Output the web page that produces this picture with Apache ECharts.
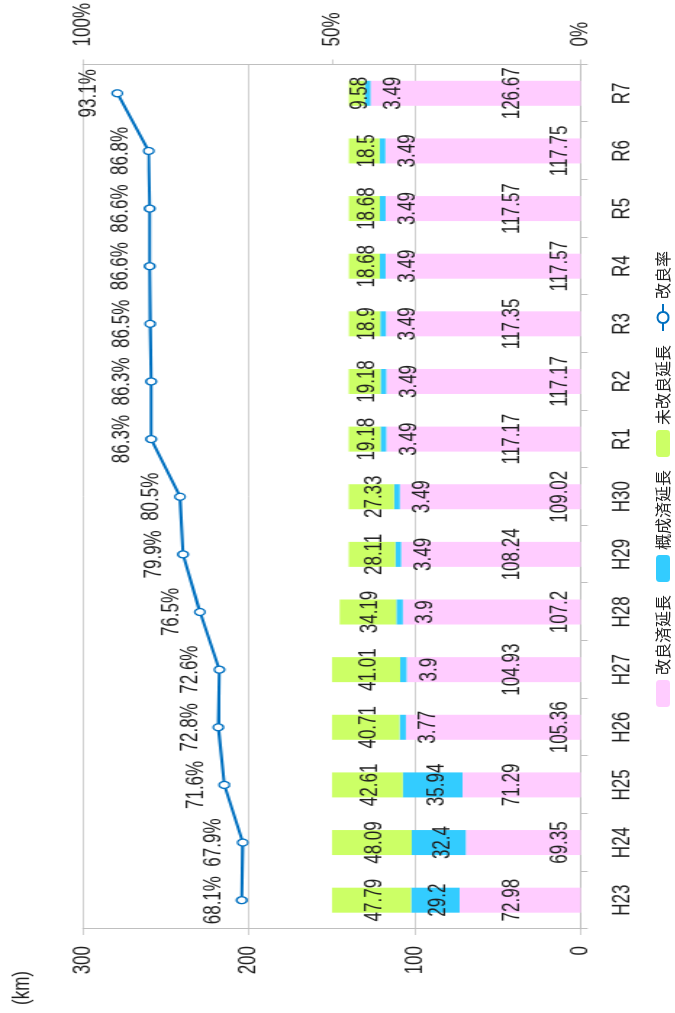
<!DOCTYPE html>
<html>
<head>
<meta charset="utf-8">
<script src="https://cdn.jsdelivr.net/npm/echarts@6/dist/echarts.min.js"></script>
<style>
  html, body { margin: 0; padding: 0; width: 675px; height: 1013px; overflow: hidden; background: #fff; }
  .rot { position: absolute; left: 0; top: 0; width: 1013px; transform-origin: 0 0; }
</style>
</head>
<body>
<div id="chart" class="rot"></div>
<div id="legend" class="rot"></div>
<script>
// ---- data ----
const categories = ['H23','H24','H25','H26','H27','H28','H29','H30','R1','R2','R3','R4','R5','R6','R7'];
const improved   = [72.98, 69.35, 71.29, 105.36, 104.93, 107.2, 108.24, 109.02, 117.17, 117.17, 117.35, 117.57, 117.57, 117.75, 126.67];
const roughDone  = [29.2, 32.4, 35.94, 3.77, 3.9, 3.9, 3.49, 3.49, 3.49, 3.49, 3.49, 3.49, 3.49, 3.49, 3.49];
const unimproved = [47.79, 48.09, 42.61, 40.71, 41.01, 34.19, 28.11, 27.33, 19.18, 19.18, 18.9, 18.68, 18.68, 18.5, 9.58];
const rate       = [68.1, 67.9, 71.6, 72.8, 72.6, 76.5, 79.9, 80.5, 86.3, 86.3, 86.5, 86.6, 86.6, 86.8, 93.1];
const kmTicks    = [0, 100, 200, 300];
const pctTicks   = [0, 50, 100];
const seriesNames = ['改良済延長', '概成済延長', '未改良延長', '改良率'];
const unitLabel = '(km)';

// ---- layout / style ----
const W = 1013, H = 675;     // unrotated chart size
const S = 1.45;              // vertical stretch of the original picture (tall, narrow glyphs)
const FONT = "'Liberation Sans', Arial, 'Noto Sans CJK JP', sans-serif";
const JFONT = "'Noto Sans CJK JP', sans-serif";
const TXT = '#1f1f1f';
const GRID = '#BFBFBF';
const FS = 17;
const COLORS = ['#FFCCFF', '#33CCFF', '#CCFF66', '#0070C0'];

const chartEl = document.getElementById('chart');
chartEl.style.height = (H / S) + 'px';
chartEl.style.transform = 'translate(0,' + W + 'px) rotate(-90deg) scale(1,' + S + ')';
const legendEl = document.getElementById('legend');
legendEl.style.height = H + 'px';
legendEl.style.transform = 'translate(0,' + W + 'px) rotate(-90deg)';

const pinkData = improved.map((v, i) => ({ value: v, label: { position: 'insideBottom', distance: i % 2 ? 6 : 38.5 } }));
const blueData = roughDone.map(v => (v > 10
  ? { value: v, label: { position: 'inside', offset: [0, 2.5] } }
  : { value: v, label: { position: 'bottom', distance: 7 } }));
const greenData = unimproved.map(v => ({ value: v, label: { position: 'inside', offset: [0, 2] } }));

const lbl = { show: true, color: TXT, fontFamily: FONT, fontSize: FS };

function buildSeries(withData) {
  return [
    { name: seriesNames[0], type: 'bar', stack: 'km', barWidth: 25, data: withData ? pinkData : [],
      itemStyle: { color: COLORS[0] }, label: lbl },
    { name: seriesNames[1], type: 'bar', stack: 'km', barWidth: 25, data: withData ? blueData : [],
      itemStyle: { color: COLORS[1] }, label: lbl },
    { name: seriesNames[2], type: 'bar', stack: 'km', barWidth: 25, data: withData ? greenData : [],
      itemStyle: { color: COLORS[2] }, label: lbl },
    { name: seriesNames[3], type: 'line', yAxisIndex: 1, data: withData ? rate : [],
      symbol: 'circle', symbolSize: 7,
      lineStyle: { color: COLORS[3], width: withData ? 2.1 : 3 },
      itemStyle: { color: '#FFFFFF', borderColor: COLORS[3], borderWidth: 1.3 },
      label: Object.assign({}, lbl, { position: 'top', distance: 7, formatter: p => p.value.toFixed(1) + '%' }),
      z: 5 }
  ];
}

const chart = echarts.init(chartEl, null, { renderer: 'canvas' });
chart.setOption({
  animation: false,
  backgroundColor: '#fff',
  textStyle: { fontFamily: FONT },
  grid: { left: 84, right: 61, top: 83 / S, bottom: 95 / S, containLabel: false },
  graphic: [{ type: 'text', left: 8, top: 6.5, style: { text: unitLabel, fill: TXT, font: FS + 'px ' + FONT } }],
  xAxis: {
    type: 'category', data: categories,
    axisLine: { lineStyle: { color: GRID, width: 1 } },
    axisTick: { show: true, length: 7 / S, lineStyle: { color: GRID } },
    axisLabel: { interval: 0, margin: 20, color: TXT, fontFamily: FONT, fontSize: FS }
  },
  yAxis: [
    {
      type: 'value', min: kmTicks[0], max: kmTicks[kmTicks.length - 1], interval: kmTicks[1] - kmTicks[0],
      axisLine: { show: true, lineStyle: { color: GRID } },
      axisTick: { show: true, length: 6, lineStyle: { color: GRID, width: 0.75 } },
      splitLine: { show: true, lineStyle: { color: GRID, width: 0.75 } },
      axisLabel: { margin: 17, color: TXT, fontFamily: FONT, fontSize: FS }
    },
    {
      type: 'value', min: pctTicks[0], max: pctTicks[pctTicks.length - 1], interval: pctTicks[1] - pctTicks[0],
      position: 'right',
      axisLine: { show: true, lineStyle: { color: GRID } },
      axisTick: { show: true, length: 5, lineStyle: { color: GRID, width: 0.75 } },
      splitLine: { show: false },
      axisLabel: { margin: 18, color: TXT, fontFamily: FONT, fontSize: FS, formatter: '{value}%' }
    }
  ],
  series: buildSeries(true)
});

// legend drawn unstretched so the Japanese glyphs keep their proportions
const legendChart = echarts.init(legendEl, null, { renderer: 'canvas' });
legendChart.setOption({
  animation: false,
  legend: {
    data: seriesNames,
    left: 301, top: 650,
    itemWidth: 27, itemHeight: 14, itemGap: 13,
    textStyle: { color: TXT, fontFamily: JFONT, fontSize: 16 }
  },
  grid: { left: 0, right: 0, top: 0, bottom: 0, show: false },
  xAxis: { type: 'category', data: categories, show: false },
  yAxis: [{ type: 'value', show: false }, { type: 'value', show: false }],
  series: buildSeries(false)
});
</script>
</body>
</html>
